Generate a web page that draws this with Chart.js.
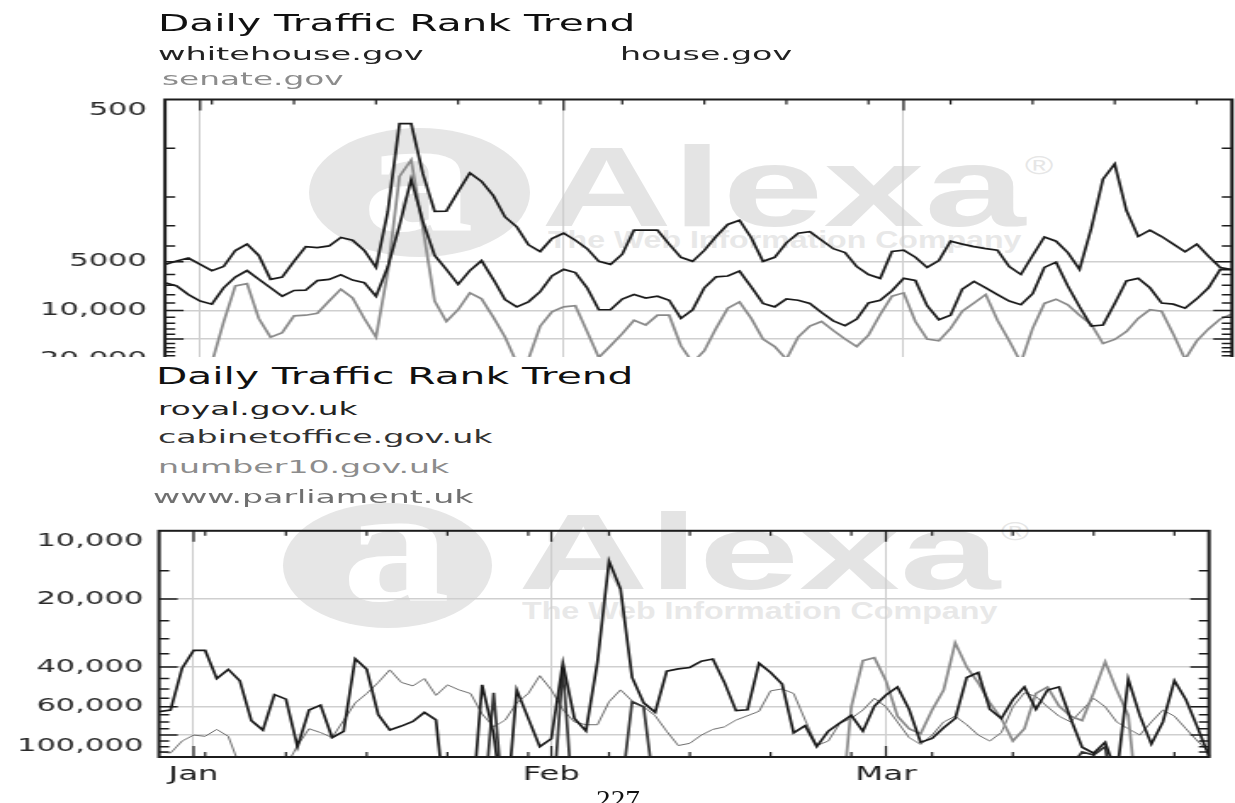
<!DOCTYPE html>
<html>
<head>
<meta charset="utf-8">
<title>Daily Traffic Rank Trend</title>
<script src="https://cdn.jsdelivr.net/npm/chart.js@4.4.1/dist/chart.umd.min.js"></script>
<style>
  html, body { margin: 0; padding: 0; background: #fff; }
  #page { position: relative; width: 1235px; height: 803px; overflow: hidden; background: #fff; }
  .txt { position: absolute; white-space: nowrap; line-height: 1; transform-origin: 0 0; font-family: "DejaVu Sans", sans-serif; }
  .wm { position: absolute; white-space: nowrap; line-height: 1; transform-origin: 0 0; font-family: "Liberation Sans", Arial, sans-serif; font-weight: bold; }
  .blob { position: absolute; background: #e6e6e6; border-radius: 50%; }
  .plotbox { position: absolute; left: 0; width: 1235px; overflow: hidden; }
  .plotbox canvas { position: absolute; left: 0; top: 0; transform-origin: 0 0; transform: scaleX(1.69876); }
</style>
</head>
<body>
<div id="page">
  <!-- watermarks -->
  <div class="blob" style="left:309px;top:128px;width:221px;height:129px"></div>
  <div class="wm" data-w="112" style="left:362px;top:93px;font-size:164px;color:#fff;font-family:'Liberation Serif',serif">a</div>
  <div class="wm" data-w="484" style="left:541px;top:130px;font-size:114px;color:#e4e4e4">Alexa</div>
  <div class="wm" data-w="28" style="left:1025px;top:152px;font-size:26px;color:#e6e6e6;font-weight:normal">®</div>
  <div class="wm" data-w="473" style="left:548px;top:228px;font-size:24px;color:#e8e8e8">The Web Information Company</div>

  <div class="blob" style="left:283px;top:503px;width:209px;height:125px"></div>
  <div class="wm" data-w="108" style="left:342px;top:463px;font-size:164px;color:#fff;font-family:'Liberation Serif',serif">a</div>
  <div class="wm" data-w="483" style="left:518px;top:499px;font-size:107px;color:#e4e4e4">Alexa</div>
  <div class="wm" data-w="28" style="left:1001px;top:518px;font-size:26px;color:#e6e6e6;font-weight:normal">®</div>
  <div class="wm" data-w="475" style="left:522px;top:599px;font-size:24px;color:#e8e8e8">The Web Information Company</div>

  <div class="plotbox" style="top:0;height:357px"><canvas id="topChart" width="727" height="420"></canvas></div>
  <div class="plotbox" style="top:500px;height:303px"><canvas id="bottomChart" width="727" height="303"></canvas></div>

  <!-- titles and legends -->
  <div class="txt" data-w="478" style="left:158px;top:12px;font-size:23px;color:#111">Daily Traffic Rank Trend</div>
  <div class="txt" data-w="265" style="left:158px;top:45px;font-size:18px;color:#222">whitehouse.gov</div>
  <div class="txt" data-w="172" style="left:620px;top:45px;font-size:18px;color:#222">house.gov</div>
  <div class="txt" data-w="182" style="left:162px;top:70px;font-size:18px;color:#8c8c8c">senate.gov</div>

  <div class="txt" data-w="478" style="left:156px;top:365px;font-size:23px;color:#111">Daily Traffic Rank Trend</div>
  <div class="txt" data-w="200" style="left:158px;top:400px;font-size:18px;color:#222">royal.gov.uk</div>
  <div class="txt" data-w="334" style="left:158px;top:428px;font-size:18px;color:#333">cabinetoffice.gov.uk</div>
  <div class="txt" data-w="291" style="left:158px;top:458px;font-size:18px;color:#8c8c8c">number10.gov.uk</div>
  <div class="txt" data-w="321" style="left:153px;top:488px;font-size:18px;color:#707070">www.parliament.uk</div>

  <div class="txt" data-w="44" style="left:596px;top:787px;font-size:26px;color:#111;font-family:'Liberation Serif',serif">227</div>
</div>

<script>
const OFF = 200000; // rank beyond the bottom of the axis

const monthNames = ["Jan", "Feb", "Mar", "Apr", "May", "Jun", "Jul", "Aug", "Sep", "Oct", "Nov", "Dec"];
const days = [];
const weekdays = [];
for (let i = 0; i < 92; i++) {
  const d = new Date(2007, 11, 29 + i);
  days.push(monthNames[d.getMonth()] + " " + d.getDate());
  weekdays.push(d.getDay());
}

// upper chart (Dec 29 .. Mar 29)
const whitehouseRank = [
  5200, 4950, 4750, 5200, 5680, 5360, 4270, 3900, 4580, 6430,
  6230, 4980, 4040, 4100, 4000, 3550, 3690, 4270, 5430, 2470,
  705, 705, 1440, 2450, 2440, 1850, 1420, 1600, 1960, 2650,
  3050, 3940, 4330, 3600, 3340, 3690, 4160, 4980, 5200, 4500,
  3200, 3200, 3200, 3900, 4700, 4980, 4260, 3500, 2950, 2780,
  3560, 4980, 4700, 3830, 3340, 3270, 3690, 4160, 4400, 5360,
  6000, 6340, 4330, 4250, 4700, 5430, 4930, 3740, 3900, 4040,
  4160, 4250, 5360, 6000, 4580, 3520, 3740, 4400, 5580, 3120,
  1550, 1250, 2420, 3500, 3200, 3500, 3900, 4350, 3900, 4630,
  5430, 5600
];
const houseRank = [
  6740, 7060, 7980, 8750, 9150, 7250, 6230, 5680, 6430, 7250,
  8170, 7530, 7500, 6540, 6430, 6030, 6500, 6740, 8170, 5400,
  3000, 1550, 2830, 4580, 5580, 6900, 5680, 4930, 6430, 8560,
  9500, 8850, 7660, 6130, 5580, 5840, 7250, 9900, 9900, 8500,
  7980, 8380, 8170, 8650, 11200, 9900, 7250, 6200, 6130, 5720,
  7160, 9050, 9500, 8480, 8650, 9050, 10300, 11600, 12400, 11300,
  9000, 8650, 7560, 6340, 6540, 9350, 11400, 10700, 7390, 6620,
  7250, 7980, 8750, 9220, 7890, 5430, 5040, 7060, 9500, 12500,
  12300, 9050, 6570, 6340, 7250, 9000, 9150, 9690, 8480, 7250,
  5580, 5600
];
const senateRank = [
  30000, 32000, 30000, 28000, 21000, 11800, 7060, 6830, 11200, 14600,
  13700, 10800, 10700, 10400, 8750, 7390, 8380, 11200, 14600, 5800,
  1490, 1180, 3120, 8750, 11700, 9900, 7790, 8480, 11000, 14600,
  21000, 20000, 12500, 10200, 9500, 9350, 13500, 19500, 16500, 13900,
  11500, 12300, 10700, 10700, 16500, 21000, 17700, 12900, 9690, 8850,
  11200, 15000, 16700, 20000, 14600, 12500, 11700, 13300, 15000, 16700,
  14200, 10600, 8170, 7790, 11700, 15000, 15400, 12900, 10100, 9000,
  7980, 11500, 15400, 21000, 12900, 9050, 8520, 9220, 10700, 12200,
  16000, 15100, 13500, 11200, 9900, 10100, 14000, 20000, 15400, 13000,
  11300, 10500
];

// lower chart
const royalRank = [
  63000, 62000, 40500, 33800, 33800, 45000, 41000, 46000, 69000, 76000,
  53000, 55500, 90000, 62000, 59000, 82000, 77000, 36800, 41000, 65000,
  76000, 73000, 69600, 63500, 68500, OFF, OFF, OFF, 48000, 79000,
  OFF, 50500, 67500, 90000, 83000, 38500, 67500, 76700, 38000, 13600,
  18100, 44500, 57600, 63400, 41700, 40800, 40200, 37700, 36900, 46800,
  62400, 61800, 38500, 42300, 47600, 78200, 72700, 89900, 76900, 70800,
  65500, 76900, 59500, 53200, 49000, 61500, 86000, 82800, 74300, 67600,
  44500, 42300, 61500, 67600, 55800, 49000, 61500, 50600, 49000, 67600,
  90500, 96100, 86000, 120000, 45300, 65500, 87700, 70000, 46000, 55800,
  74000, 99400
];
const cabinetRank = [
  OFF, OFF, OFF, OFF, OFF, OFF, OFF, OFF, OFF, OFF,
  OFF, OFF, OFF, OFF, OFF, OFF, OFF, OFF, OFF, OFF,
  OFF, OFF, OFF, OFF, OFF, OFF, OFF, 120000, OFF, 52000,
  OFF, OFF, OFF, OFF, OFF, 40000, OFF, OFF, OFF, OFF,
  150000, 57000, 60000, 150000, OFF, OFF, OFF, OFF, OFF, OFF,
  OFF, OFF, OFF, OFF, OFF, OFF, OFF, OFF, OFF, OFF,
  OFF, OFF, OFF, OFF, OFF, OFF, OFF, OFF, OFF, OFF,
  OFF, OFF, OFF, OFF, OFF, OFF, OFF, OFF, OFF, 110000,
  95000, 98000, 90000, OFF, OFF, OFF, OFF, OFF, OFF, OFF,
  OFF, OFF
];
const number10Rank = [
  OFF, OFF, OFF, OFF, OFF, OFF, OFF, OFF, OFF, OFF,
  OFF, OFF, OFF, OFF, OFF, OFF, OFF, OFF, OFF, OFF,
  OFF, OFF, OFF, OFF, OFF, OFF, OFF, OFF, OFF, OFF,
  OFF, OFF, OFF, OFF, OFF, OFF, OFF, OFF, OFF, OFF,
  OFF, OFF, OFF, OFF, OFF, OFF, OFF, OFF, OFF, OFF,
  OFF, OFF, OFF, OFF, OFF, OFF, OFF, OFF, OFF, OFF,
  60000, 37500, 36400, 46000, 66000, 75000, 79000, 62000, 50600, 31300,
  40000, 47000, 57600, 67600, 85000, 75000, 52300, 49000, 59500, 66000,
  69000, 52000, 37900, 50600, 65500, OFF, OFF, OFF, OFF, OFF,
  OFF, OFF
];
const parliamentRank = [
  95000, 96000, 85000, 80000, 81000, 75500, 81000, 110000, OFF, OFF,
  OFF, 110000, 89000, 75000, 78000, 82000, 69000, 57700, 52400, 46800,
  41200, 46800, 48500, 45000, 53400, 48000, 50500, 52400, 64500, 73600,
  68700, 57700, 52400, 43700, 50500, 61800, 70000, 72000, 72000, 57000,
  50500, 56500, 60000, 65700, 77000, 89000, 87000, 80000, 75500, 73600,
  68700, 65700, 62800, 51000, 50000, 52400, 68700, 89000, 85000, 71000,
  67500, 62000, 55000, 60000, 70000, 82000, 88000, 80000, 70000, 66000,
  72000, 80000, 85000, 78000, 60000, 52000, 54000, 60000, 66000, 70000,
  62000, 55000, 60000, 70000, 75000, 80000, 70000, 62000, 66000, 75000,
  85000, 95000
];

// axis ticks
const topTickValues = [500, 5000, 10000, 15000, 20000];
const topTickLabels = ["500", "5000", "10,000", "", "20,000"];
const topMinorTicks = [1000, 2000, 3000, 4000, 6000, 7000, 8000, 9000, 11000, 12000, 13000, 14000, 16000, 17000, 18000, 19000];
const bottomTickValues = [10000, 20000, 40000, 60000, 80000, 100000];
const bottomTickLabels = ["10,000", "20,000", "40,000", "60,000", "", "100,000"];
const bottomMinorTicks = [15000, 25000, 30000, 35000, 45000, 50000, 55000, 65000, 70000, 75000, 85000, 90000, 95000];

function isMonthStart(i) {
  return days[i].endsWith(" 1");
}

const frameTicks = {
  id: "frameTicks",
  afterDraw(chart, args, opts) {
    const { ctx, chartArea: a } = chart;
    const x = chart.scales.x;
    const y = chart.scales.y;
    ctx.save();
    ctx.strokeStyle = "#1c1c1c";

    ctx.lineWidth = 1.5;
    ctx.beginPath();
    opts.major.forEach((v) => {
      const p = y.getPixelForValue(v);
      ctx.moveTo(a.left, p); ctx.lineTo(a.left + 11, p);
      ctx.moveTo(a.right, p); ctx.lineTo(a.right - 11, p);
    });
    opts.minor.forEach((v) => {
      const p = y.getPixelForValue(v);
      ctx.moveTo(a.left, p); ctx.lineTo(a.left + 6, p);
      ctx.moveTo(a.right, p); ctx.lineTo(a.right - 6, p);
    });
    ctx.stroke();

    ctx.lineWidth = 1.2;
    ctx.beginPath();
    days.forEach((lab, i) => {
      let len = 0;
      if (isMonthStart(i)) len = 11;
      else if (weekdays[i] === 3) len = 5;
      if (!len) return;
      const p = x.getPixelForValue(i);
      ctx.moveTo(p, a.top); ctx.lineTo(p, a.top + len);
      ctx.moveTo(p, a.bottom); ctx.lineTo(p, a.bottom - len);
    });
    ctx.stroke();

    ctx.lineWidth = 2;
    ctx.strokeRect(a.left, a.top, a.right - a.left, a.bottom - a.top);
    ctx.restore();
  },
};

Chart.defaults.font.family = "DejaVu Sans";

function makeChart(id, series, opt) {
  return new Chart(document.getElementById(id), {
    type: "line",
    data: {
      labels: days,
      datasets: series.map((s) => ({
        label: s.name,
        data: s.data,
        borderColor: s.color,
        borderWidth: s.width,
        pointRadius: 0,
        tension: 0,
        fill: false,
      })),
    },
    options: {
      responsive: false,
      animation: false,
      devicePixelRatio: 1,
      layout: { padding: opt.padding },
      plugins: {
        legend: { display: false },
        tooltip: { enabled: false },
        frameTicks: { major: opt.yTicks.filter((v) => v !== opt.yMin && v !== opt.yMax), minor: opt.yMinor },
      },
      scales: {
        x: {
          type: "category",
          offset: false,
          afterBuildTicks: (ax) => {
            ax.ticks = ax.ticks.filter((t) => isMonthStart(t.value));
          },
          afterFit: (ax) => {
            ax.height = opt.xHeight;
          },
          ticks: {
            display: opt.xLabels,
            autoSkip: false,
            maxRotation: 0,
            padding: 7,
            color: "#1c1c1c",
            font: { size: 19 },
            callback: function (value) {
              return this.getLabelForValue(value).slice(0, 3);
            },
          },
          grid: { color: "#cccccc", lineWidth: 1, drawTicks: false },
          border: { display: false },
        },
        y: {
          type: "logarithmic",
          reverse: true,
          min: opt.yMin,
          max: opt.yMax,
          afterBuildTicks: (ax) => {
            ax.ticks = opt.yTicks.map((v) => ({ value: v }));
          },
          afterFit: (ax) => {
            ax.width = opt.yWidth;
          },
          ticks: {
            autoSkip: false,
            padding: opt.yPad,
            color: "#2a2a2a",
            font: { size: 18 },
            callback: (value) => {
              const text = opt.yLabels[opt.yTicks.indexOf(value)] || "";
              if (value === opt.yMin) return ["", text];
              if (value === opt.yMax) return [text, ""];
              return text;
            },
          },
          grid: {
            color: (c) => {
              const v = c.tick && c.tick.value;
              return v === opt.yMin || v === opt.yMax ? "rgba(0,0,0,0)" : "#cfcfcf";
            },
            lineWidth: 1.6,
            drawTicks: false,
          },
          border: { display: false },
        },
      },
    },
    plugins: [frameTicks],
  });
}

makeChart(
  "topChart",
  [
    { name: "whitehouse.gov", data: whitehouseRank, color: "#1a1a1a", width: 1.7 },
    { name: "house.gov", data: houseRank, color: "#1a1a1a", width: 1.7 },
    { name: "senate.gov", data: senateRank, color: "#8a8a8a", width: 1.7 },
  ],
  {
    padding: { left: 0, top: 99.5, right: 1.8, bottom: 28.9 },
    xHeight: 0,
    xLabels: false,
    yWidth: 97.1,
    yPad: 10.6,
    yMin: 500,
    yMax: 30000,
    yTicks: topTickValues,
    yLabels: topTickLabels,
    yMinor: topMinorTicks,
  }
);

makeChart(
  "bottomChart",
  [
    { name: "royal.gov.uk", data: royalRank, color: "#1a1a1a", width: 1.7 },
    { name: "cabinetoffice.gov.uk", data: cabinetRank, color: "#333333", width: 1.7 },
    { name: "number10.gov.uk", data: number10Rank, color: "#8a8a8a", width: 1.7 },
    { name: "www.parliament.uk", data: parliamentRank, color: "#6e6e6e", width: 1.0 },
  ],
  {
    padding: { left: 0, top: 18, right: 15.3, bottom: 0 },
    xHeight: 46,
    xLabels: true,
    yWidth: 93.6,
    yPad: 9.2,
    yMin: 10000,
    yMax: 100000,
    yTicks: bottomTickValues,
    yLabels: bottomTickLabels,
    yMinor: bottomMinorTicks,
  }
);

// stretch the html texts to the widths seen in the picture
document.querySelectorAll("[data-w]").forEach((el) => {
  const w = el.offsetWidth;
  if (w > 0) el.style.transform = "scaleX(" + el.dataset.w / w + ")";
});
</script>
</body>
</html>
